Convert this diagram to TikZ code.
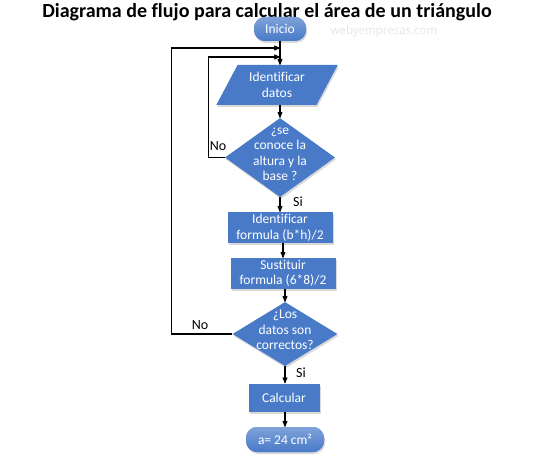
\documentclass[tikz,border=0pt]{standalone}
\usepackage{fontspec}
\setmainfont[Ligatures=NoCommon]{Carlito}
\newfontfamily\markfont{Open Sans}
\usetikzlibrary{arrows}
\usetikzlibrary{shapes.geometric,shadows}

\definecolor{boxblue}{RGB}{72,122,200}

\tikzset{
  flow/.style={fill=boxblue, text=white, font=\fontsize{13.5}{15.5}\selectfont, align=center, inner sep=0,
    drop shadow={opacity=.3, shadow xshift=1pt, shadow yshift=-2pt}},
  proc/.style={flow, rectangle, minimum height=31},
  term/.style={flow, rectangle, rounded corners=11, minimum height=24, top color=boxblue!70!white, bottom color=boxblue},
  datbox/.style={flow, trapezium, trapezium left angle=59, trapezium right angle=121, trapezium stretches=true,
    minimum width=122, minimum height=40},
  decis/.style={flow, diamond},
  dtext/.style={text=white, align=center, font=\fontsize{13.5}{15.5}\selectfont},
  tag/.style={font=\fontsize{14}{16}\selectfont, inner sep=1},
  link/.style={black, line width=1.1pt, ->, >=stealth'}
}

\begin{document}
\begin{tikzpicture}[x=1pt, y=-1pt]
\useasboundingbox (0,0) rectangle (534,462);
\node (titulo) at (267,12) {\fontsize{20}{22}\selectfont\bfseries Diagrama de flujo para calcular el área de un triángulo};
\node[text=gray!20, font=\markfont\fontsize{11.5}{13}\selectfont] (marca) at (384,32) {webyempresas.com};

% bloques
\node[term, minimum width=52] (inicio) at (280,29) {Inicio};
\node[datbox] (datos) at (277,85) {Identificar\\datos};
\node[decis, minimum width=110, minimum height=79,
  label={[dtext, yshift=3]center:{¿se\\conoce la\\altura y la\\base ?}}] (dec1) at (280,157.5) {};
\node[proc, minimum width=105] (formula) at (280,227.5) {Identificar\\formula (b*h)/2};
\node[proc, minimum width=105] (sust) at (283,273.5) {Sustituir\\formula (6*8)/2};
\node[decis, minimum width=105, minimum height=64,
  label={[dtext, yshift=4]center:{¿Los\\datos son\\correctos?}}] (dec2) at (285,334) {};
\node[proc, minimum width=71, minimum height=28] (calc) at (284,397.5) {Calcular};
\node[term, minimum width=78, minimum height=25] (fin) at (285,439.5) {a= 24 cm²};

% flechas
\coordinate (entA) at (280,48);
\coordinate (entB) at (280,57);
\draw[link] (inicio) -- (inicio |- datos.north);
\draw[link] (datos.south -| dec1) -- (dec1);
\draw[link] (dec1) -- (formula);
\draw[link] (formula.south -| sust) -- (sust);
\draw[link] (sust.south -| dec2) -- (dec2);
\draw[link] (dec2) -- (dec2 |- calc.north);
\draw[link] (calc.south -| fin) -- (fin);
\draw[link] (dec1.west) -- ++(-16,0) |- (entB);
\draw[link] (dec2.west) -- ++(-61,0) |- (entA);

\node[tag] (no1) at (218,146) {No};
\node[tag] (si1) at (298,202) {Si};
\node[tag] (no2) at (200,325) {No};
\node[tag] (si2) at (301,373) {Si};
\end{tikzpicture}
\end{document}
